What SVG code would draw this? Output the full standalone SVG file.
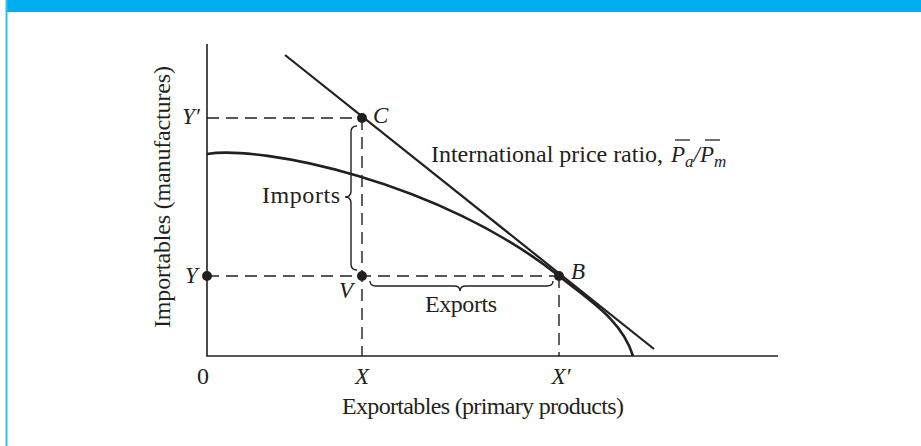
<svg xmlns="http://www.w3.org/2000/svg" width="921" height="446" viewBox="0 0 921 446">
<style>
.t{font-family:"Liberation Serif","Times New Roman",serif;font-size:24px;fill:#231f20}
.i{font-style:italic;font-size:23px}
.ax{stroke:#231f20;stroke-width:1.6;fill:none}
.ds{stroke:#231f20;stroke-width:1.4;stroke-dasharray:12 7;fill:none}
.br{stroke:#231f20;stroke-width:1.4;fill:none}
.dot{fill:#231f20}
.ob{stroke:#231f20;stroke-width:1.3}
</style>
<rect x="0" y="0" width="921" height="446" fill="#fff"/>
<rect x="6" y="0" width="915" height="12" fill="#00aeef"/>
<line x1="6.5" y1="0" x2="6.5" y2="446" stroke="#3bbcee" stroke-width="2"/>
<g id="axes">
<line class="ax" x1="207" y1="44" x2="207" y2="356"/>
<line class="ax" x1="206.2" y1="356" x2="778" y2="356"/>
<text class="t" x="203" y="384" text-anchor="middle" font-size="22">0</text>
<text class="t" transform="translate(170 197) rotate(-90)" text-anchor="middle" textLength="262">Importables (manufactures)</text>
<text class="t" x="483" y="414" text-anchor="middle" textLength="282">Exportables (primary products)</text>
</g>
<g id="connectors">
<path class="ds" d="M207,118 H362"/>
<path class="ds" d="M207,276 H559"/>
<path class="ds" d="M362,118 V356"/>
<path class="ds" d="M559,276 V356"/>
<path class="br" d="M357,126 Q351,126 351,132 L351,191 Q351,197 345,197 Q351,197 351,203 L351,264 Q351,270 357,270"/>
<path class="br" d="M370,281 Q370,286 376,286 L454,286 Q460,286 460,291 Q460,286 466,286 L547,286 Q553,286 553,281"/>
</g>
<g id="price-line">
<line x1="285" y1="55" x2="654" y2="349" stroke="#231f20" stroke-width="2.2"/>
<text class="t" x="431" y="162" textLength="232">International price ratio,</text>
<text class="t i" x="671" y="162" font-size="24">P<tspan font-size="17" dy="5">a</tspan><tspan dy="-5">/P</tspan><tspan font-size="17" dy="5">m</tspan></text>
<line class="ob" x1="675" y1="140" x2="690" y2="140"/>
<line class="ob" x1="705" y1="140" x2="720" y2="140"/>
</g>
<g id="ppf">
<path d="M207,154 C260,145 440,181 559,276 C590,301 622,320 633,356" stroke="#231f20" stroke-width="2.6" fill="none"/>
</g>
<g id="node-C">
<circle class="dot" cx="362" cy="118" r="5"/>
<text class="t i" x="373" y="123">C</text>
<text class="t i" x="182" y="124">Y′</text>
</g>
<g id="node-Y">
<circle class="dot" cx="207" cy="276" r="5"/>
<text class="t i" x="185" y="283">Y</text>
</g>
<g id="node-V">
<circle class="dot" cx="362" cy="276" r="5"/>
<text class="t i" x="339" y="298">V</text>
</g>
<g id="node-B">
<circle class="dot" cx="559" cy="276" r="5"/>
<text class="t i" x="571" y="279">B</text>
</g>
<g id="labels">
<text class="t" x="262" y="203" textLength="78">Imports</text>
<text class="t" x="461" y="312" text-anchor="middle" textLength="72">Exports</text>
<text class="t i" x="362" y="384" text-anchor="middle">X</text>
<text class="t i" x="561" y="384" text-anchor="middle">X′</text>
</g>
</svg>
